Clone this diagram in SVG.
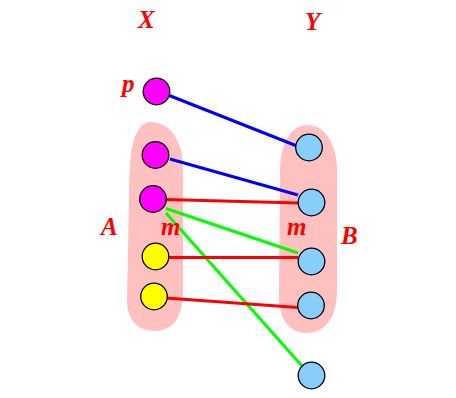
<svg xmlns="http://www.w3.org/2000/svg" width="456" height="398" viewBox="0 0 456 398">
<style>
.blob{fill:#FFC0C0;stroke:none}
.n{stroke:#000;stroke-width:1.3}
.mag{fill:#FF00FF}
.yel{fill:#FFFF00}
.blu{fill:#87CEFA}
.lbl{font-family:"Liberation Serif","Times New Roman",serif;font-style:italic;font-weight:bold;font-size:25px;fill:#FF0000}
.e{stroke-width:3;fill:none}
</style>
<rect width="456" height="398" fill="#fff"/>
<g id="setA"><path class="blob" d="M 150 122 C 168 122 177 136 181 150 C 184 165 183 180 183 200 L 183 290 C 183 320 171 331 155 331 C 136 331 127 318 127 300 L 129 200 C 129 180 130 150 134 140 C 138 128 143 122 150 122 Z"/></g>
<g id="setB"><path class="blob" d="M 308 125 C 325 125 337 145 337 170 L 337 290 C 337 318 325 333 306 333 C 290 333 280 320 279 300 L 280 170 C 281 140 292 125 308 125 Z"/></g>
<g id="connectors">
<line class="e" stroke="#0000FF" x1="168" y1="95" x2="297" y2="146"/>
<line class="e" stroke="#0000FF" x1="170" y1="159" x2="298" y2="195"/>
<line class="e" stroke="#FF0000" x1="166" y1="199.5" x2="298" y2="203"/>
<line class="e" stroke="#00FF00" x1="166" y1="208.5" x2="298" y2="253"/>
<line class="e" stroke="#00FF00" x1="166" y1="213" x2="302" y2="366"/>
<line class="e" stroke="#FF0000" x1="169" y1="257.5" x2="298" y2="257.5"/>
<line class="e" stroke="#FF0000" x1="166" y1="298" x2="298" y2="307.5"/>
</g>
<g id="p"><circle class="n mag" cx="156.5" cy="91.5" r="13.3"/></g>
<g id="x1"><circle class="n mag" cx="155.5" cy="155" r="13.3"/></g>
<g id="x2"><circle class="n mag" cx="153" cy="199" r="13.3"/></g>
<g id="x3"><circle class="n yel" cx="155.5" cy="256.5" r="13.3"/></g>
<g id="x4"><circle class="n yel" cx="154" cy="296.5" r="13.3"/></g>
<g id="y1"><circle class="n blu" cx="309" cy="147.5" r="13.3"/></g>
<g id="y2"><circle class="n blu" cx="311.5" cy="202.5" r="13.3"/></g>
<g id="y3"><circle class="n blu" cx="311.5" cy="261.5" r="13.3"/></g>
<g id="y4"><circle class="n blu" cx="311" cy="305.5" r="13.3"/></g>
<g id="y5"><circle class="n blu" cx="311.5" cy="375.5" r="13.3"/></g>
<g id="labels">
<text class="lbl" x="138" y="28">X</text>
<text class="lbl" x="305" y="30">Y</text>
<text class="lbl" x="122" y="92">p</text>
<text class="lbl" x="101" y="235">A</text>
<text class="lbl" x="161" y="235">m</text>
<text class="lbl" x="287" y="235">m</text>
<text class="lbl" x="341" y="244">B</text>
</g>
</svg>
